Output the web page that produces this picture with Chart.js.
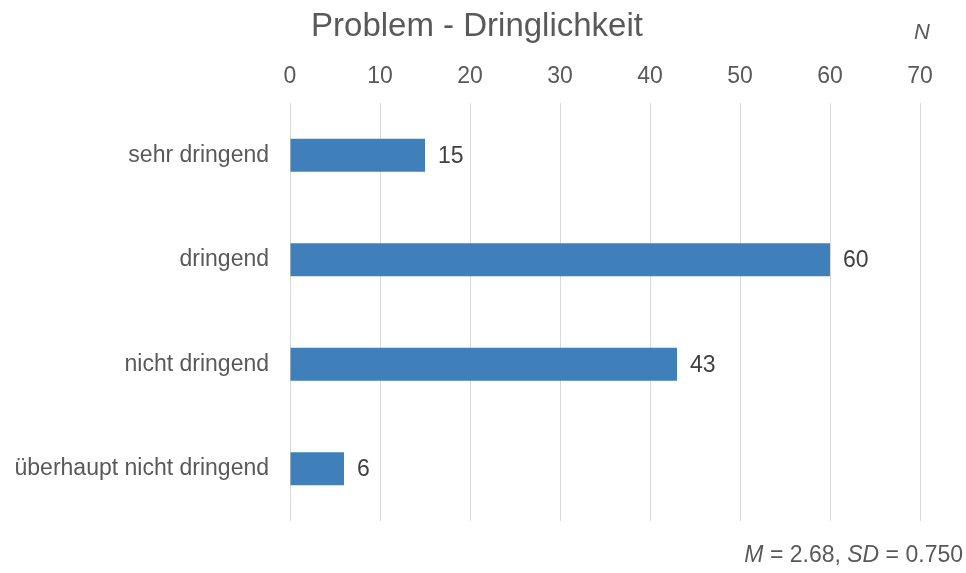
<!DOCTYPE html>
<html>
<head>
<meta charset="utf-8">
<script src="https://cdn.jsdelivr.net/npm/chart.js@4"></script>
<style>
  html, body { margin: 0; padding: 0; background: #fff; }
  #wrap { width: 966px; height: 573px; position: relative; }
</style>
</head>
<body>
<div id="wrap"><canvas id="chart"></canvas></div>
<script>
// ====== Data ======
const categories = ['sehr dringend', 'dringend', 'nicht dringend', 'überhaupt nicht dringend'];
const counts = [15, 60, 43, 6];
const xTicks = [0, 10, 20, 30, 40, 50, 60, 70];
const chartTitle = 'Problem - Dringlichkeit';
const footNote = [['M', true], [' = 2.68, ', false], ['SD', true], [' = 0.750', false]];

const FONT = '"Liberation Sans", Arial, sans-serif';
const GREY = '#595959';

// ====== Extra texts: title, N, footer, value labels ======
const extras = {
    id: 'extras',
    afterDatasetsDraw(chart) {
        const { ctx } = chart;
        const meta = chart.getDatasetMeta(0);
        ctx.save();
        ctx.fillStyle = '#404040';
        ctx.font = '23px ' + FONT;
        ctx.textBaseline = 'middle';
        ctx.textAlign = 'left';
        meta.data.forEach((bar, i) => {
            ctx.fillText(String(counts[i]), bar.x + 13, bar.y + 1);
        });

        ctx.fillStyle = GREY;
        ctx.textAlign = 'center';
        ctx.font = '33px ' + FONT;
        ctx.fillText(chartTitle, 477, 27);

        ctx.font = 'italic 22px ' + FONT;
        ctx.fillText('N', 922, 33);

        // footer, right aligned
        ctx.textAlign = 'left';
        let total = 0;
        footNote.forEach(([t, it]) => {
            ctx.font = (it ? 'italic ' : '') + '23px ' + FONT;
            total += ctx.measureText(t).width;
        });
        let x = 963 - total;
        footNote.forEach(([t, it]) => {
            ctx.font = (it ? 'italic ' : '') + '23px ' + FONT;
            ctx.fillText(t, x, 556);
            x += ctx.measureText(t).width;
        });
        ctx.restore();
    }
};

new Chart(document.getElementById('chart'), {
    type: 'bar',
    data: {
        labels: categories,
        datasets: [{
            data: counts,
            backgroundColor: '#3F7FBA',
            borderWidth: 0,
            barPercentage: 0.63,
            categoryPercentage: 0.5
        }]
    },
    options: {
        indexAxis: 'y',
        responsive: true,
        maintainAspectRatio: false,
        animation: false,
        layout: { padding: { top: 0, left: 0, right: 46, bottom: 52 } },
        plugins: {
            legend: { display: false },
            tooltip: { enabled: false }
        },
        scales: {
            x: {
                position: 'top',
                min: xTicks[0],
                max: xTicks[xTicks.length - 1],
                afterBuildTicks: s => { s.ticks = xTicks.map(v => ({ value: v })); },
                afterFit: s => { s.height = 103; },
                border: { display: false },
                grid: { color: '#d9d9d9', lineWidth: 1, drawTicks: false },
                ticks: { color: GREY, font: { size: 23, family: FONT }, padding: 13 }
            },
            y: {
                afterFit: s => { s.width = 290; },
                border: { display: false },
                grid: { display: false },
                ticks: { color: GREY, font: { size: 23, family: FONT }, padding: 13 }
            }
        }
    },
    plugins: [extras]
});
</script>
</body>
</html>
